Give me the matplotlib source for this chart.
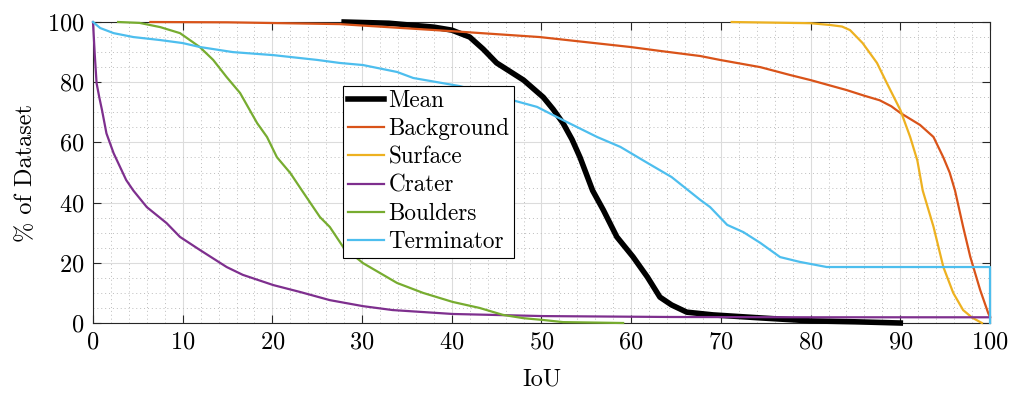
import matplotlib
matplotlib.use('Agg')
import matplotlib.pyplot as plt
from matplotlib.ticker import MultipleLocator

# IoU threshold (x) vs. % of dataset (y)
mean_x = [28, 33, 38, 40, 42, 43.5, 45, 48, 50.2, 51.3, 52.4, 53.4, 54.3, 55.7, 56.9, 58.4, 60.2, 61.8, 63.2, 64.5, 66.2, 69.1, 74.4, 80, 85, 90]
mean_y = [100, 99.6, 98.3, 97.3, 95, 91, 86.4, 80.7, 75, 71, 66.4, 61, 55, 44, 37.5, 28.6, 22, 15.3, 8.6, 6, 3.6, 2.7, 1.7, 0.7, 0.4, 0]

bg_x = [6.4, 15, 27.5, 39.8, 49.8, 59.9, 63.2, 67.7, 69.9, 74.4, 77.7, 80, 84, 86, 87.7, 89, 90, 92.2, 93.7, 94.8, 95.5, 96.1, 97, 97.8, 98.9, 99.8, 100]
bg_y = [100, 99.9, 99.3, 97, 95, 91.7, 90.4, 88.7, 87.4, 85, 82.4, 80.7, 77.4, 75.5, 74, 72, 69.8, 65.8, 61.8, 55, 50, 44, 32, 22, 11, 3.3, 2]

surf_x = [71.2, 80, 82.2, 83.5, 84.4, 85.8, 87.4, 88.5, 90, 91.1, 91.9, 92.5, 93.7, 94.8, 95.9, 97, 98, 99.1]
surf_y = [100, 99.6, 99, 98.5, 97.3, 93, 86.4, 79.7, 70.8, 61.8, 54, 44, 32, 18.6, 10, 4.3, 1.8, 0]

crat_x = [0, 0.2, 0.4, 0.7, 1, 1.5, 2.3, 3.7, 4.5, 6, 8.2, 9.7, 11.9, 14.9, 16.7, 20.1, 23.1, 26.4, 30.1, 33.4, 40.1, 50.2, 64.3, 80, 100]
crat_y = [100, 89, 79.7, 75, 70.8, 63, 56.4, 47.5, 44, 38.5, 33.2, 28.6, 24.3, 18.6, 16, 12.6, 10.3, 7.6, 5.6, 4.3, 3, 2.3, 2, 1.9, 1.9]

bould_x = [2.8, 5.2, 7.5, 9.7, 11.9, 13.4, 14.9, 16.4, 18.3, 19.4, 20.5, 22, 23.3, 25.3, 26.4, 27.9, 30.1, 33.9, 36.8, 40.1, 43.1, 45.7, 48, 50.2, 52.4, 59.1]
bould_y = [100, 99.7, 98.3, 96.3, 91.7, 87.4, 81.7, 76.4, 66.4, 61.8, 55.1, 49.8, 44, 35.2, 31.9, 25.2, 19.9, 13.3, 10, 7, 5, 2.7, 1.6, 1, 0.3, 0]

term_x = [0, 0.8, 2.3, 4.5, 7.5, 10, 11.9, 15.6, 20.1, 25, 27.5, 30.1, 33.9, 35.7, 40.9, 46.8, 49.5, 52.4, 56.2, 58.8, 61.8, 64.5, 67.7, 68.8, 70.7, 72.5, 74.4, 76.6, 78.8, 81.8, 100, 100]
term_y = [100, 98, 96.3, 95, 94, 93, 91.7, 90, 89, 87.4, 86.4, 85.7, 83.4, 81.4, 78.7, 74, 71.8, 67.4, 61.8, 58.5, 53.2, 48.5, 40.9, 38.5, 32.6, 30.2, 26.6, 21.9, 20.3, 18.6, 18.6, 0]

plt.rcParams['font.family'] = ['cmr10', 'DejaVu Serif']
plt.rcParams['axes.formatter.use_mathtext'] = True
plt.rcParams['mathtext.fontset'] = 'cm'

fig = plt.figure(figsize=(10.13, 3.93), dpi=100)
ax = fig.add_axes([0.0918, 0.1781, 0.8855, 0.7659])

series = [
    (mean_x, mean_y, 'black', 4.0, 'Mean'),
    (bg_x, bg_y, '#D95319', 1.6, 'Background'),
    (surf_x, surf_y, '#EDB120', 1.6, 'Surface'),
    (crat_x, crat_y, '#7E2F8E', 1.6, 'Crater'),
    (bould_x, bould_y, '#77AC30', 1.6, 'Boulders'),
    (term_x, term_y, '#4DBEEE', 1.6, 'Terminator'),
]
for xs, ys, c, lw, name in series:
    ax.plot(xs, ys, color=c, lw=lw, label=name, clip_on=False, zorder=3,
            solid_joinstyle='round')

ax.set_xlim(0, 100)
ax.set_ylim(0, 100)
ax.xaxis.set_major_locator(MultipleLocator(10))
ax.xaxis.set_minor_locator(MultipleLocator(2))
ax.yaxis.set_major_locator(MultipleLocator(20))
ax.yaxis.set_minor_locator(MultipleLocator(5))

ax.grid(True, which='major', color='#dcdcdc', lw=0.8)
ax.grid(True, which='minor', color='#bdbdbd', lw=0.7, ls=(0, (1, 3)))
ax.set_axisbelow(True)

ax.tick_params(which='major', direction='in', length=6, width=0.8, top=True, right=True,
               labelsize=17.5, color='#262626', pad=6)
ax.tick_params(which='minor', length=0)
for s in ax.spines.values():
    s.set_color('#262626')
    s.set_linewidth(0.8)

ax.set_xlabel('IoU', fontsize=17.5, labelpad=11)
ax.set_ylabel('% of Dataset', fontsize=17.5, labelpad=7)

leg = ax.legend(loc='upper left', bbox_to_anchor=(0.279, 0.789), fontsize=16.7,
                frameon=True, fancybox=False, framealpha=1, edgecolor='black',
                handlelength=1.55, handletextpad=0.2, labelspacing=0.26,
                borderpad=0.2, borderaxespad=0)
leg.set_zorder(5)
leg.get_frame().set_linewidth(0.8)

fig.savefig('out.png', dpi=100)
